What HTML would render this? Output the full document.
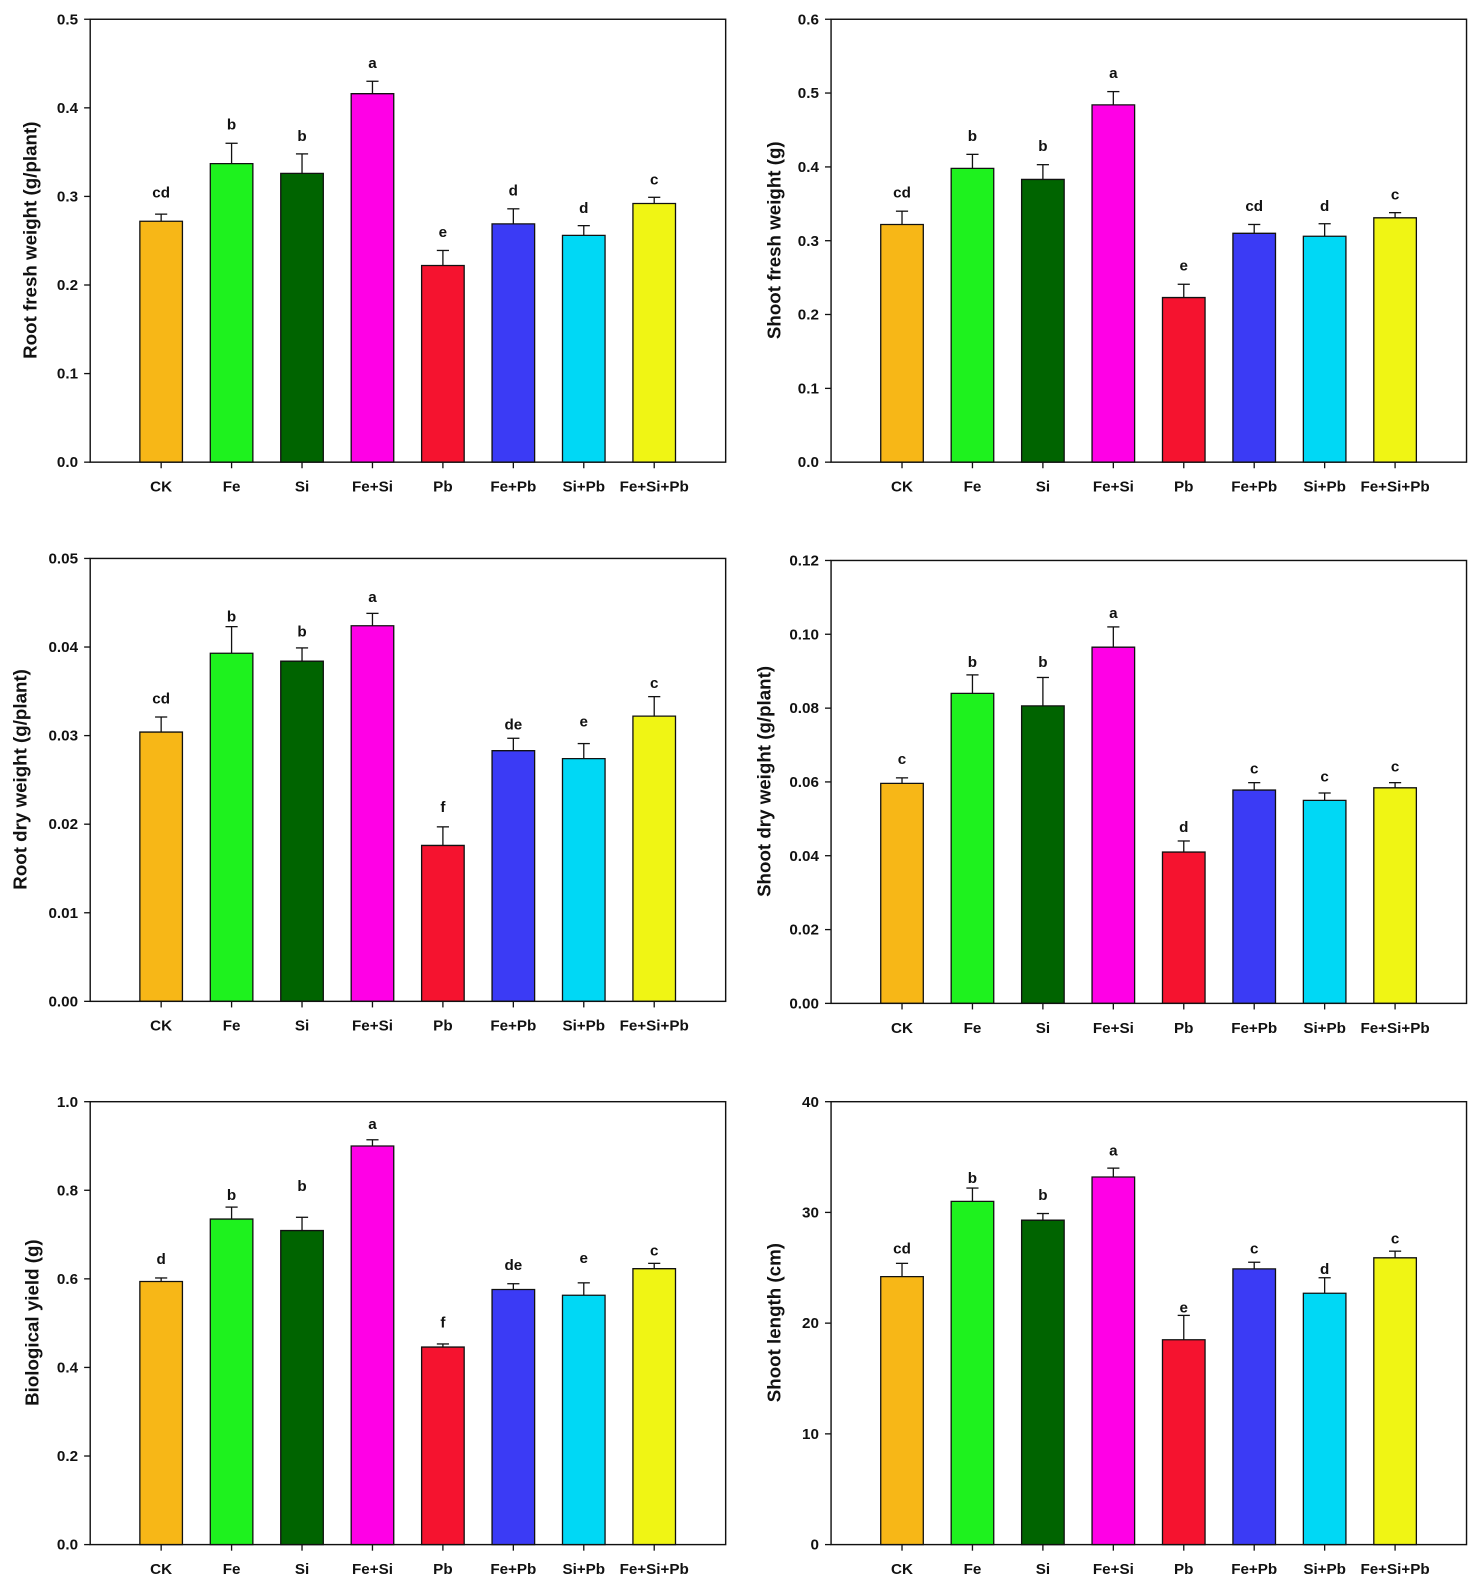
<!DOCTYPE html>
<html><head><meta charset="utf-8"><style>
html,body{margin:0;padding:0;background:#fff;}
svg{display:block;}
text{font-family:"Liberation Sans",Arial,sans-serif;font-weight:bold;fill:#111;}
.t{font-size:15px;text-anchor:end;}
.x{font-size:15px;text-anchor:middle;}
.l{font-size:15px;text-anchor:middle;}
.yt{font-size:18.5px;text-anchor:middle;}
.b rect,.b line{vector-effect:non-scaling-stroke;stroke:#111;stroke-width:1.3;}
.ax line{stroke:#111;stroke-width:1.3;}
</style></head><body>
<svg width="1479" height="1590" viewBox="0 0 1459.3 1568.8" preserveAspectRatio="none" xmlns="http://www.w3.org/2000/svg">

<!-- Panel 1 -->
<g transform="translate(89,19)">
<g class="b" transform="translate(0,437) scale(1,-874)">
<rect x="49" y="0" width="42" height="0.272" fill="#f7b717"/><line x1="70" x2="70" y1="0.272" y2="0.280"/><line x1="64" x2="76" y1="0.280" y2="0.280"/>
<rect x="118.5" y="0" width="42" height="0.337" fill="#1ef21e"/><line x1="139.5" x2="139.5" y1="0.337" y2="0.360"/><line x1="133.5" x2="145.5" y1="0.360" y2="0.360"/>
<rect x="188" y="0" width="42" height="0.326" fill="#006400"/><line x1="209" x2="209" y1="0.326" y2="0.348"/><line x1="203" x2="215" y1="0.348" y2="0.348"/>
<rect x="257.5" y="0" width="42" height="0.416" fill="#ff00e6"/><line x1="278.5" x2="278.5" y1="0.416" y2="0.430"/><line x1="272.5" x2="284.5" y1="0.430" y2="0.430"/>
<rect x="327" y="0" width="42" height="0.222" fill="#f5132f"/><line x1="348" x2="348" y1="0.222" y2="0.239"/><line x1="342" x2="354" y1="0.239" y2="0.239"/>
<rect x="396.5" y="0" width="42" height="0.269" fill="#3b3bf5"/><line x1="417.5" x2="417.5" y1="0.269" y2="0.286"/><line x1="411.5" x2="423.5" y1="0.286" y2="0.286"/>
<rect x="466" y="0" width="42" height="0.256" fill="#00d8f5"/><line x1="487" x2="487" y1="0.256" y2="0.267"/><line x1="481" x2="493" y1="0.267" y2="0.267"/>
<rect x="535.5" y="0" width="42" height="0.292" fill="#f0f514"/><line x1="556.5" x2="556.5" y1="0.292" y2="0.299"/><line x1="550.5" x2="562.5" y1="0.299" y2="0.299"/>
</g>
<rect x="0" y="0" width="627" height="437" fill="none" stroke="#111" stroke-width="1.4"/>
<g class="ax"><line x1="-6" x2="0" y1="0" y2="0"/><line x1="-6" x2="0" y1="87.4" y2="87.4"/><line x1="-6" x2="0" y1="174.8" y2="174.8"/><line x1="-6" x2="0" y1="262.2" y2="262.2"/><line x1="-6" x2="0" y1="349.6" y2="349.6"/><line x1="-6" x2="0" y1="437" y2="437"/>
<line x1="70" x2="70" y1="437" y2="443"/><line x1="139.5" x2="139.5" y1="437" y2="443"/><line x1="209" x2="209" y1="437" y2="443"/><line x1="278.5" x2="278.5" y1="437" y2="443"/><line x1="348" x2="348" y1="437" y2="443"/><line x1="417.5" x2="417.5" y1="437" y2="443"/><line x1="487" x2="487" y1="437" y2="443"/><line x1="556.5" x2="556.5" y1="437" y2="443"/></g>
<text class="t" x="-12" y="5">0.5</text><text class="t" x="-12" y="92.4">0.4</text><text class="t" x="-12" y="179.8">0.3</text><text class="t" x="-12" y="267.2">0.2</text><text class="t" x="-12" y="354.6">0.1</text><text class="t" x="-12" y="442">0.0</text>
<text class="x" x="70" y="466">CK</text><text class="x" x="139.5" y="466">Fe</text><text class="x" x="209" y="466">Si</text><text class="x" x="278.5" y="466">Fe+Si</text><text class="x" x="348" y="466">Pb</text><text class="x" x="417.5" y="466">Fe+Pb</text><text class="x" x="487" y="466">Si+Pb</text><text class="x" x="556.5" y="466">Fe+Si+Pb</text>
<text class="l" x="70" y="176">cd</text><text class="l" x="139.5" y="109">b</text><text class="l" x="209" y="120">b</text><text class="l" x="278.5" y="48">a</text><text class="l" x="348" y="215">e</text><text class="l" x="417.5" y="174">d</text><text class="l" x="487" y="191">d</text><text class="l" x="556.5" y="163">c</text>
<text class="yt" transform="translate(-53,218) rotate(-90)">Root fresh weight (g/plant)</text>
</g>

<!-- Panel 2 -->
<g transform="translate(820,19)">
<g class="b" transform="translate(0,437) scale(1,-728.33)">
<rect x="49" y="0" width="42" height="0.322" fill="#f7b717"/><line x1="70" x2="70" y1="0.322" y2="0.340"/><line x1="64" x2="76" y1="0.340" y2="0.340"/>
<rect x="118.5" y="0" width="42" height="0.398" fill="#1ef21e"/><line x1="139.5" x2="139.5" y1="0.398" y2="0.417"/><line x1="133.5" x2="145.5" y1="0.417" y2="0.417"/>
<rect x="188" y="0" width="42" height="0.383" fill="#006400"/><line x1="209" x2="209" y1="0.383" y2="0.403"/><line x1="203" x2="215" y1="0.403" y2="0.403"/>
<rect x="257.5" y="0" width="42" height="0.484" fill="#ff00e6"/><line x1="278.5" x2="278.5" y1="0.484" y2="0.502"/><line x1="272.5" x2="284.5" y1="0.502" y2="0.502"/>
<rect x="327" y="0" width="42" height="0.223" fill="#f5132f"/><line x1="348" x2="348" y1="0.223" y2="0.241"/><line x1="342" x2="354" y1="0.241" y2="0.241"/>
<rect x="396.5" y="0" width="42" height="0.310" fill="#3b3bf5"/><line x1="417.5" x2="417.5" y1="0.310" y2="0.322"/><line x1="411.5" x2="423.5" y1="0.322" y2="0.322"/>
<rect x="466" y="0" width="42" height="0.306" fill="#00d8f5"/><line x1="487" x2="487" y1="0.306" y2="0.323"/><line x1="481" x2="493" y1="0.323" y2="0.323"/>
<rect x="535.5" y="0" width="42" height="0.331" fill="#f0f514"/><line x1="556.5" x2="556.5" y1="0.331" y2="0.338"/><line x1="550.5" x2="562.5" y1="0.338" y2="0.338"/>
</g>
<rect x="0" y="0" width="627" height="437" fill="none" stroke="#111" stroke-width="1.4"/>
<g class="ax"><line x1="-6" x2="0" y1="0" y2="0"/><line x1="-6" x2="0" y1="72.8" y2="72.8"/><line x1="-6" x2="0" y1="145.7" y2="145.7"/><line x1="-6" x2="0" y1="218.5" y2="218.5"/><line x1="-6" x2="0" y1="291.3" y2="291.3"/><line x1="-6" x2="0" y1="364.2" y2="364.2"/><line x1="-6" x2="0" y1="437" y2="437"/>
<line x1="70" x2="70" y1="437" y2="443"/><line x1="139.5" x2="139.5" y1="437" y2="443"/><line x1="209" x2="209" y1="437" y2="443"/><line x1="278.5" x2="278.5" y1="437" y2="443"/><line x1="348" x2="348" y1="437" y2="443"/><line x1="417.5" x2="417.5" y1="437" y2="443"/><line x1="487" x2="487" y1="437" y2="443"/><line x1="556.5" x2="556.5" y1="437" y2="443"/></g>
<text class="t" x="-12" y="5">0.6</text><text class="t" x="-12" y="77.8">0.5</text><text class="t" x="-12" y="150.7">0.4</text><text class="t" x="-12" y="223.5">0.3</text><text class="t" x="-12" y="296.3">0.2</text><text class="t" x="-12" y="369.2">0.1</text><text class="t" x="-12" y="442">0.0</text>
<text class="x" x="70" y="466">CK</text><text class="x" x="139.5" y="466">Fe</text><text class="x" x="209" y="466">Si</text><text class="x" x="278.5" y="466">Fe+Si</text><text class="x" x="348" y="466">Pb</text><text class="x" x="417.5" y="466">Fe+Pb</text><text class="x" x="487" y="466">Si+Pb</text><text class="x" x="556.5" y="466">Fe+Si+Pb</text>
<text class="l" x="70" y="176">cd</text><text class="l" x="139.5" y="120">b</text><text class="l" x="209" y="130">b</text><text class="l" x="278.5" y="58">a</text><text class="l" x="348" y="248">e</text><text class="l" x="417.5" y="189">cd</text><text class="l" x="487" y="189">d</text><text class="l" x="556.5" y="178">c</text>
<text class="yt" transform="translate(-50,218) rotate(-90)">Shoot fresh weight (g)</text>
</g>

<!-- Panel 3 -->
<g transform="translate(89,551)">
<g class="b" transform="translate(0,437) scale(1,-8740)">
<rect x="49" y="0" width="42" height="0.0304" fill="#f7b717"/><line x1="70" x2="70" y1="0.0304" y2="0.0321"/><line x1="64" x2="76" y1="0.0321" y2="0.0321"/>
<rect x="118.5" y="0" width="42" height="0.0393" fill="#1ef21e"/><line x1="139.5" x2="139.5" y1="0.0393" y2="0.0423"/><line x1="133.5" x2="145.5" y1="0.0423" y2="0.0423"/>
<rect x="188" y="0" width="42" height="0.0384" fill="#006400"/><line x1="209" x2="209" y1="0.0384" y2="0.0399"/><line x1="203" x2="215" y1="0.0399" y2="0.0399"/>
<rect x="257.5" y="0" width="42" height="0.0424" fill="#ff00e6"/><line x1="278.5" x2="278.5" y1="0.0424" y2="0.0438"/><line x1="272.5" x2="284.5" y1="0.0438" y2="0.0438"/>
<rect x="327" y="0" width="42" height="0.0176" fill="#f5132f"/><line x1="348" x2="348" y1="0.0176" y2="0.0197"/><line x1="342" x2="354" y1="0.0197" y2="0.0197"/>
<rect x="396.5" y="0" width="42" height="0.0283" fill="#3b3bf5"/><line x1="417.5" x2="417.5" y1="0.0283" y2="0.0297"/><line x1="411.5" x2="423.5" y1="0.0297" y2="0.0297"/>
<rect x="466" y="0" width="42" height="0.0274" fill="#00d8f5"/><line x1="487" x2="487" y1="0.0274" y2="0.0291"/><line x1="481" x2="493" y1="0.0291" y2="0.0291"/>
<rect x="535.5" y="0" width="42" height="0.0322" fill="#f0f514"/><line x1="556.5" x2="556.5" y1="0.0322" y2="0.0344"/><line x1="550.5" x2="562.5" y1="0.0344" y2="0.0344"/>
</g>
<rect x="0" y="0" width="627" height="437" fill="none" stroke="#111" stroke-width="1.4"/>
<g class="ax"><line x1="-6" x2="0" y1="0" y2="0"/><line x1="-6" x2="0" y1="87.4" y2="87.4"/><line x1="-6" x2="0" y1="174.8" y2="174.8"/><line x1="-6" x2="0" y1="262.2" y2="262.2"/><line x1="-6" x2="0" y1="349.6" y2="349.6"/><line x1="-6" x2="0" y1="437" y2="437"/>
<line x1="70" x2="70" y1="437" y2="443"/><line x1="139.5" x2="139.5" y1="437" y2="443"/><line x1="209" x2="209" y1="437" y2="443"/><line x1="278.5" x2="278.5" y1="437" y2="443"/><line x1="348" x2="348" y1="437" y2="443"/><line x1="417.5" x2="417.5" y1="437" y2="443"/><line x1="487" x2="487" y1="437" y2="443"/><line x1="556.5" x2="556.5" y1="437" y2="443"/></g>
<text class="t" x="-12" y="5">0.05</text><text class="t" x="-12" y="92.4">0.04</text><text class="t" x="-12" y="179.8">0.03</text><text class="t" x="-12" y="267.2">0.02</text><text class="t" x="-12" y="354.6">0.01</text><text class="t" x="-12" y="442">0.00</text>
<text class="x" x="70" y="466">CK</text><text class="x" x="139.5" y="466">Fe</text><text class="x" x="209" y="466">Si</text><text class="x" x="278.5" y="466">Fe+Si</text><text class="x" x="348" y="466">Pb</text><text class="x" x="417.5" y="466">Fe+Pb</text><text class="x" x="487" y="466">Si+Pb</text><text class="x" x="556.5" y="466">Fe+Si+Pb</text>
<text class="l" x="70" y="143">cd</text><text class="l" x="139.5" y="62">b</text><text class="l" x="209" y="77">b</text><text class="l" x="278.5" y="43">a</text><text class="l" x="348" y="250">f</text><text class="l" x="417.5" y="169">de</text><text class="l" x="487" y="166">e</text><text class="l" x="556.5" y="128">c</text>
<text class="yt" transform="translate(-63,218) rotate(-90)">Root dry weight (g/plant)</text>
</g>

<!-- Panel 4 -->
<g transform="translate(820,553)">
<g class="b" transform="translate(0,437) scale(1,-3641.67)">
<rect x="49" y="0" width="42" height="0.0596" fill="#f7b717"/><line x1="70" x2="70" y1="0.0596" y2="0.0611"/><line x1="64" x2="76" y1="0.0611" y2="0.0611"/>
<rect x="118.5" y="0" width="42" height="0.0840" fill="#1ef21e"/><line x1="139.5" x2="139.5" y1="0.0840" y2="0.0890"/><line x1="133.5" x2="145.5" y1="0.0890" y2="0.0890"/>
<rect x="188" y="0" width="42" height="0.0806" fill="#006400"/><line x1="209" x2="209" y1="0.0806" y2="0.0883"/><line x1="203" x2="215" y1="0.0883" y2="0.0883"/>
<rect x="257.5" y="0" width="42" height="0.0965" fill="#ff00e6"/><line x1="278.5" x2="278.5" y1="0.0965" y2="0.1020"/><line x1="272.5" x2="284.5" y1="0.1020" y2="0.1020"/>
<rect x="327" y="0" width="42" height="0.0410" fill="#f5132f"/><line x1="348" x2="348" y1="0.0410" y2="0.0440"/><line x1="342" x2="354" y1="0.0440" y2="0.0440"/>
<rect x="396.5" y="0" width="42" height="0.0578" fill="#3b3bf5"/><line x1="417.5" x2="417.5" y1="0.0578" y2="0.0598"/><line x1="411.5" x2="423.5" y1="0.0598" y2="0.0598"/>
<rect x="466" y="0" width="42" height="0.0550" fill="#00d8f5"/><line x1="487" x2="487" y1="0.0550" y2="0.0570"/><line x1="481" x2="493" y1="0.0570" y2="0.0570"/>
<rect x="535.5" y="0" width="42" height="0.0584" fill="#f0f514"/><line x1="556.5" x2="556.5" y1="0.0584" y2="0.0598"/><line x1="550.5" x2="562.5" y1="0.0598" y2="0.0598"/>
</g>
<rect x="0" y="0" width="627" height="437" fill="none" stroke="#111" stroke-width="1.4"/>
<g class="ax"><line x1="-6" x2="0" y1="0" y2="0"/><line x1="-6" x2="0" y1="72.8" y2="72.8"/><line x1="-6" x2="0" y1="145.7" y2="145.7"/><line x1="-6" x2="0" y1="218.5" y2="218.5"/><line x1="-6" x2="0" y1="291.3" y2="291.3"/><line x1="-6" x2="0" y1="364.2" y2="364.2"/><line x1="-6" x2="0" y1="437" y2="437"/>
<line x1="70" x2="70" y1="437" y2="443"/><line x1="139.5" x2="139.5" y1="437" y2="443"/><line x1="209" x2="209" y1="437" y2="443"/><line x1="278.5" x2="278.5" y1="437" y2="443"/><line x1="348" x2="348" y1="437" y2="443"/><line x1="417.5" x2="417.5" y1="437" y2="443"/><line x1="487" x2="487" y1="437" y2="443"/><line x1="556.5" x2="556.5" y1="437" y2="443"/></g>
<text class="t" x="-12" y="5">0.12</text><text class="t" x="-12" y="77.8">0.10</text><text class="t" x="-12" y="150.7">0.08</text><text class="t" x="-12" y="223.5">0.06</text><text class="t" x="-12" y="296.3">0.04</text><text class="t" x="-12" y="369.2">0.02</text><text class="t" x="-12" y="442">0.00</text>
<text class="x" x="70" y="466">CK</text><text class="x" x="139.5" y="466">Fe</text><text class="x" x="209" y="466">Si</text><text class="x" x="278.5" y="466">Fe+Si</text><text class="x" x="348" y="466">Pb</text><text class="x" x="417.5" y="466">Fe+Pb</text><text class="x" x="487" y="466">Si+Pb</text><text class="x" x="556.5" y="466">Fe+Si+Pb</text>
<text class="l" x="70" y="201">c</text><text class="l" x="139.5" y="105">b</text><text class="l" x="209" y="105">b</text><text class="l" x="278.5" y="57">a</text><text class="l" x="348" y="268">d</text><text class="l" x="417.5" y="210">c</text><text class="l" x="487" y="218">c</text><text class="l" x="556.5" y="208">c</text>
<text class="yt" transform="translate(-60,218) rotate(-90)">Shoot dry weight (g/plant)</text>
</g>

<!-- Panel 5 -->
<g transform="translate(89,1087)">
<g class="b" transform="translate(0,437) scale(1,-437)">
<rect x="49" y="0" width="42" height="0.594" fill="#f7b717"/><line x1="70" x2="70" y1="0.594" y2="0.602"/><line x1="64" x2="76" y1="0.602" y2="0.602"/>
<rect x="118.5" y="0" width="42" height="0.735" fill="#1ef21e"/><line x1="139.5" x2="139.5" y1="0.735" y2="0.762"/><line x1="133.5" x2="145.5" y1="0.762" y2="0.762"/>
<rect x="188" y="0" width="42" height="0.709" fill="#006400"/><line x1="209" x2="209" y1="0.709" y2="0.739"/><line x1="203" x2="215" y1="0.739" y2="0.739"/>
<rect x="257.5" y="0" width="42" height="0.900" fill="#ff00e6"/><line x1="278.5" x2="278.5" y1="0.900" y2="0.914"/><line x1="272.5" x2="284.5" y1="0.914" y2="0.914"/>
<rect x="327" y="0" width="42" height="0.446" fill="#f5132f"/><line x1="348" x2="348" y1="0.446" y2="0.453"/><line x1="342" x2="354" y1="0.453" y2="0.453"/>
<rect x="396.5" y="0" width="42" height="0.576" fill="#3b3bf5"/><line x1="417.5" x2="417.5" y1="0.576" y2="0.589"/><line x1="411.5" x2="423.5" y1="0.589" y2="0.589"/>
<rect x="466" y="0" width="42" height="0.563" fill="#00d8f5"/><line x1="487" x2="487" y1="0.563" y2="0.591"/><line x1="481" x2="493" y1="0.591" y2="0.591"/>
<rect x="535.5" y="0" width="42" height="0.623" fill="#f0f514"/><line x1="556.5" x2="556.5" y1="0.623" y2="0.635"/><line x1="550.5" x2="562.5" y1="0.635" y2="0.635"/>
</g>
<rect x="0" y="0" width="627" height="437" fill="none" stroke="#111" stroke-width="1.4"/>
<g class="ax"><line x1="-6" x2="0" y1="0" y2="0"/><line x1="-6" x2="0" y1="87.4" y2="87.4"/><line x1="-6" x2="0" y1="174.8" y2="174.8"/><line x1="-6" x2="0" y1="262.2" y2="262.2"/><line x1="-6" x2="0" y1="349.6" y2="349.6"/><line x1="-6" x2="0" y1="437" y2="437"/>
<line x1="70" x2="70" y1="437" y2="443"/><line x1="139.5" x2="139.5" y1="437" y2="443"/><line x1="209" x2="209" y1="437" y2="443"/><line x1="278.5" x2="278.5" y1="437" y2="443"/><line x1="348" x2="348" y1="437" y2="443"/><line x1="417.5" x2="417.5" y1="437" y2="443"/><line x1="487" x2="487" y1="437" y2="443"/><line x1="556.5" x2="556.5" y1="437" y2="443"/></g>
<text class="t" x="-12" y="5">1.0</text><text class="t" x="-12" y="92.4">0.8</text><text class="t" x="-12" y="179.8">0.6</text><text class="t" x="-12" y="267.2">0.4</text><text class="t" x="-12" y="354.6">0.2</text><text class="t" x="-12" y="442">0.0</text>
<text class="x" x="70" y="466">CK</text><text class="x" x="139.5" y="466">Fe</text><text class="x" x="209" y="466">Si</text><text class="x" x="278.5" y="466">Fe+Si</text><text class="x" x="348" y="466">Pb</text><text class="x" x="417.5" y="466">Fe+Pb</text><text class="x" x="487" y="466">Si+Pb</text><text class="x" x="556.5" y="466">Fe+Si+Pb</text>
<text class="l" x="70" y="160">d</text><text class="l" x="139.5" y="97">b</text><text class="l" x="209" y="88">b</text><text class="l" x="278.5" y="27">a</text><text class="l" x="348" y="223">f</text><text class="l" x="417.5" y="166">de</text><text class="l" x="487" y="159">e</text><text class="l" x="556.5" y="152">c</text>
<text class="yt" transform="translate(-51,218) rotate(-90)">Biological yield (g)</text>
</g>

<!-- Panel 6 -->
<g transform="translate(820,1087)">
<g class="b" transform="translate(0,437) scale(1,-10.925)">
<rect x="49" y="0" width="42" height="24.2" fill="#f7b717"/><line x1="70" x2="70" y1="24.2" y2="25.4"/><line x1="64" x2="76" y1="25.4" y2="25.4"/>
<rect x="118.5" y="0" width="42" height="31.0" fill="#1ef21e"/><line x1="139.5" x2="139.5" y1="31.0" y2="32.2"/><line x1="133.5" x2="145.5" y1="32.2" y2="32.2"/>
<rect x="188" y="0" width="42" height="29.3" fill="#006400"/><line x1="209" x2="209" y1="29.3" y2="29.9"/><line x1="203" x2="215" y1="29.9" y2="29.9"/>
<rect x="257.5" y="0" width="42" height="33.2" fill="#ff00e6"/><line x1="278.5" x2="278.5" y1="33.2" y2="34.0"/><line x1="272.5" x2="284.5" y1="34.0" y2="34.0"/>
<rect x="327" y="0" width="42" height="18.5" fill="#f5132f"/><line x1="348" x2="348" y1="18.5" y2="20.7"/><line x1="342" x2="354" y1="20.7" y2="20.7"/>
<rect x="396.5" y="0" width="42" height="24.9" fill="#3b3bf5"/><line x1="417.5" x2="417.5" y1="24.9" y2="25.5"/><line x1="411.5" x2="423.5" y1="25.5" y2="25.5"/>
<rect x="466" y="0" width="42" height="22.7" fill="#00d8f5"/><line x1="487" x2="487" y1="22.7" y2="24.1"/><line x1="481" x2="493" y1="24.1" y2="24.1"/>
<rect x="535.5" y="0" width="42" height="25.9" fill="#f0f514"/><line x1="556.5" x2="556.5" y1="25.9" y2="26.5"/><line x1="550.5" x2="562.5" y1="26.5" y2="26.5"/>
</g>
<rect x="0" y="0" width="627" height="437" fill="none" stroke="#111" stroke-width="1.4"/>
<g class="ax"><line x1="-6" x2="0" y1="0" y2="0"/><line x1="-6" x2="0" y1="109.25" y2="109.25"/><line x1="-6" x2="0" y1="218.5" y2="218.5"/><line x1="-6" x2="0" y1="327.75" y2="327.75"/><line x1="-6" x2="0" y1="437" y2="437"/>
<line x1="70" x2="70" y1="437" y2="443"/><line x1="139.5" x2="139.5" y1="437" y2="443"/><line x1="209" x2="209" y1="437" y2="443"/><line x1="278.5" x2="278.5" y1="437" y2="443"/><line x1="348" x2="348" y1="437" y2="443"/><line x1="417.5" x2="417.5" y1="437" y2="443"/><line x1="487" x2="487" y1="437" y2="443"/><line x1="556.5" x2="556.5" y1="437" y2="443"/></g>
<text class="t" x="-12" y="5">40</text><text class="t" x="-12" y="114.25">30</text><text class="t" x="-12" y="223.5">20</text><text class="t" x="-12" y="332.75">10</text><text class="t" x="-12" y="442">0</text>
<text class="x" x="70" y="466">CK</text><text class="x" x="139.5" y="466">Fe</text><text class="x" x="209" y="466">Si</text><text class="x" x="278.5" y="466">Fe+Si</text><text class="x" x="348" y="466">Pb</text><text class="x" x="417.5" y="466">Fe+Pb</text><text class="x" x="487" y="466">Si+Pb</text><text class="x" x="556.5" y="466">Fe+Si+Pb</text>
<text class="l" x="70" y="150">cd</text><text class="l" x="139.5" y="80">b</text><text class="l" x="209" y="97">b</text><text class="l" x="278.5" y="53">a</text><text class="l" x="348" y="208">e</text><text class="l" x="417.5" y="150">c</text><text class="l" x="487" y="170">d</text><text class="l" x="556.5" y="140">c</text>
<text class="yt" transform="translate(-50,218) rotate(-90)">Shoot length (cm)</text>
</g>

</svg>
</body></html>
